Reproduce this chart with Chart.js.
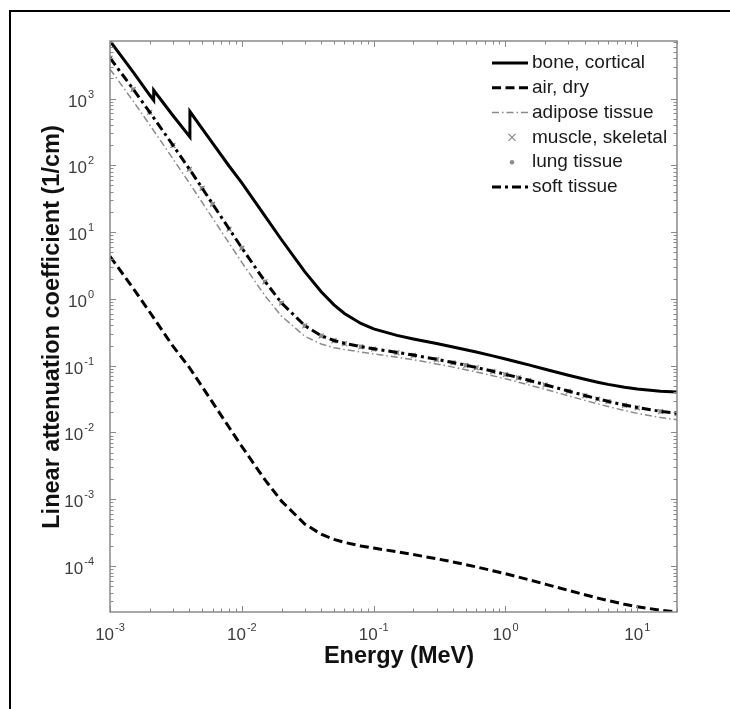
<!DOCTYPE html>
<html>
<head>
<meta charset="utf-8">
<script src="https://cdn.jsdelivr.net/npm/chart.js@4.4.1/dist/chart.umd.min.js"></script>
<style>
  html, body { margin: 0; padding: 0; background: #fff; overflow: hidden; }
  canvas { display: block; }
</style>
</head>
<body>
<canvas id="chart" width="730" height="709"></canvas>
<script>
// energies in MeV
const energy = [0.001, 0.0015, 0.002, 0.003, 0.004, 0.005, 0.006, 0.008, 0.01, 0.015, 0.02, 0.03, 0.04, 0.05, 0.06, 0.08,
  0.1, 0.15, 0.2, 0.3, 0.4, 0.5, 0.6, 0.8, 1, 1.25, 1.5, 2, 3, 4, 5, 6, 8, 10, 15, 20];

// bone has the P and Ca K-edges
const energyBone = [0.001, 0.0015, 0.002, 0.0021455, 0.0021455, 0.003, 0.004038, 0.004038, 0.005, 0.006, 0.008, 0.01, 0.015, 0.02,
  0.03, 0.04, 0.05, 0.06, 0.08, 0.1, 0.15, 0.2, 0.3, 0.4, 0.5, 0.6, 0.8, 1, 1.25, 1.5, 2, 3, 4, 5, 6, 8, 10, 15, 20];

// linear attenuation coefficients (1/cm)
const bone = [7260, 2486, 1127, 940, 1330, 556, 265, 638, 354, 215, 97.6, 54.7, 17.3, 7.68,
  2.556, 1.278, 0.814, 0.604, 0.428, 0.356, 0.284, 0.251, 0.214, 0.190, 0.173, 0.160, 0.140, 0.126, 0.1127, 0.1026,
  0.0885, 0.0719, 0.0625, 0.0566, 0.0525, 0.0474, 0.0446, 0.0414, 0.0403];

const air = [4.345, 1.435, 0.636, 0.1958, 0.0938, 0.0485, 0.0282, 0.01195, 6.17e-3, 1.945e-3, 9.37e-4, 4.26e-4, 2.99e-4,
  2.51e-4, 2.26e-4, 2.00e-4, 1.857e-4, 1.634e-4, 1.486e-4, 1.286e-4, 1.151e-4, 1.050e-4, 9.71e-5, 8.52e-5, 7.66e-5,
  6.85e-5, 6.24e-5, 5.36e-5, 4.32e-5, 3.71e-5, 3.31e-5, 3.04e-5, 2.68e-5, 2.46e-5, 2.18e-5, 2.05e-5];

const adipose = [2755, 912, 404, 125.4, 54.2, 27.8, 16.2, 6.84, 3.52, 1.11, 0.551, 0.276, 0.211, 0.186, 0.174, 0.160,
  0.150, 0.134, 0.1226, 0.1062, 0.0951, 0.0868, 0.0804, 0.0706, 0.0635, 0.0567, 0.0516, 0.0443, 0.0354, 0.0302,
  0.0268, 0.0244, 0.0213, 0.0193, 0.0167, 0.0155];

const muscle = [4010, 1366, 619, 198, 87.1, 45.0, 26.1, 11.1, 5.74, 1.80, 0.861, 0.394, 0.278, 0.236, 0.214, 0.191,
  0.177, 0.156, 0.1426, 0.1233, 0.1103, 0.1007, 0.0931, 0.0818, 0.0735, 0.0657, 0.0598, 0.0514, 0.0413, 0.0354,
  0.0316, 0.0289, 0.0254, 0.0234, 0.0205, 0.0191];

const lung = [4030, 1372, 622, 199, 87.6, 45.3, 26.3, 11.15, 5.77, 1.81, 0.866, 0.396, 0.280, 0.237, 0.215, 0.192,
  0.178, 0.157, 0.1433, 0.1239, 0.1108, 0.1012, 0.0935, 0.0822, 0.0738, 0.0660, 0.0601, 0.0516, 0.0415, 0.0356,
  0.0317, 0.0290, 0.0255, 0.0235, 0.0206, 0.0192];

const soft = [4050, 1380, 625, 200, 88, 45.5, 26.4, 11.2, 5.8, 1.82, 0.87, 0.398, 0.281, 0.238, 0.216, 0.193,
  0.179, 0.158, 0.144, 0.1245, 0.1114, 0.1017, 0.0940, 0.0826, 0.0742, 0.0664, 0.0604, 0.0519, 0.0417, 0.0358,
  0.0319, 0.0292, 0.0257, 0.0236, 0.0207, 0.0193];

const xMin = 0.001, xMax = 20;
const yMin = 2.05e-5, yMax = 7260;
const xTickExp = [-3, -2, -1, 0, 1];
const yTickExp = [-4, -3, -2, -1, 0, 1, 2, 3];

const GRAY = '#8a8a8a';
const FONT = '"Liberation Sans", Arial, sans-serif';

function pts(xs, ys) {
  return xs.map((x, i) => ({ x: x, y: ys[i] }));
}

const datasets = [
  { label: 'bone, cortical', data: pts(energyBone, bone), borderColor: '#000', borderWidth: 3, pointRadius: 0, order: 5 },
  { label: 'air, dry', data: pts(energy, air), borderColor: '#000', borderWidth: 3, borderDash: [9, 4.5], pointRadius: 0, order: 4 },
  { label: 'adipose tissue', data: pts(energy, adipose), borderColor: GRAY, borderWidth: 1.5, borderDash: [7, 3, 1.5, 3], pointRadius: 0, order: 3 },
  { label: 'muscle, skeletal', data: pts(energy, muscle), showLine: false, pointStyle: 'crossRot', pointRadius: 3.5,
    pointBorderWidth: 1.2, borderColor: GRAY, backgroundColor: GRAY, order: 2 },
  { label: 'lung tissue', data: pts(energy, lung), showLine: false, pointStyle: 'circle', pointRadius: 2.2,
    pointBorderWidth: 0, borderColor: GRAY, backgroundColor: GRAY, order: 1 },
  { label: 'soft tissue', data: pts(energy, soft), borderColor: '#000', borderWidth: 3, borderDash: [9, 4, 3, 4], pointRadius: 0, order: 0 }
];

function line(ctx, x1, y1, x2, y2) {
  ctx.beginPath(); ctx.moveTo(x1, y1); ctx.lineTo(x2, y2); ctx.stroke();
}

// draw 10^n with a raised exponent
function powLabel(ctx, cx, baseY, n, align) {
  const base = '10', ex = String(n);
  ctx.font = '17px ' + FONT;
  const wb = ctx.measureText(base).width;
  ctx.font = '11px ' + FONT;
  const we = ctx.measureText(ex).width;
  const w = wb + we + 1;
  const left = align === 'right' ? cx - w : cx - w / 2;
  ctx.textAlign = 'left';
  ctx.textBaseline = 'alphabetic';
  ctx.font = '17px ' + FONT;
  ctx.fillText(base, left, baseY);
  ctx.font = '11px ' + FONT;
  ctx.fillText(ex, left + wb + 1, baseY - 9);
}

// white page with the picture frame (only left and top edges are in view)
const framePlugin = {
  id: 'frame',
  beforeDraw(chart) {
    const ctx = chart.ctx;
    ctx.save();
    ctx.fillStyle = '#fff';
    ctx.fillRect(0, 0, chart.width, chart.height);
    ctx.fillStyle = '#000';
    ctx.fillRect(9, 10, chart.width - 9, 2);
    ctx.fillRect(9, 10, 2, chart.height - 10);
    ctx.restore();
  }
};

const axesPlugin = {
  id: 'matlabAxes',
  afterDraw(chart) {
    const { ctx, chartArea: a, scales: { x, y } } = chart;
    ctx.save();
    ctx.strokeStyle = GRAY;
    ctx.lineWidth = 1.5;
    ctx.setLineDash([]);
    ctx.strokeRect(a.left, a.top, a.right - a.left, a.bottom - a.top);
    ctx.lineWidth = 1;

    // minor / major ticks, pointing inwards on all four sides
    for (let d = -3; d <= 1; d++) {
      for (let m = 1; m <= 9; m++) {
        const v = m * Math.pow(10, d);
        if (v < xMin || v > xMax) continue;
        const px = Math.round(x.getPixelForValue(v)) + 0.5;
        const len = m === 1 ? 6 : 3.5;
        line(ctx, px, a.bottom, px, a.bottom - len);
        line(ctx, px, a.top, px, a.top + len);
      }
    }
    for (let d = -5; d <= 3; d++) {
      for (let m = 1; m <= 9; m++) {
        const v = m * Math.pow(10, d);
        if (v < yMin || v > yMax) continue;
        const py = Math.round(y.getPixelForValue(v)) + 0.5;
        const len = m === 1 ? 6 : 3.5;
        line(ctx, a.left, py, a.left + len, py);
        line(ctx, a.right, py, a.right - len, py);
      }
    }

    // tick labels
    ctx.fillStyle = '#3c3c3c';
    xTickExp.forEach(n => powLabel(ctx, x.getPixelForValue(Math.pow(10, n)), a.bottom + 28, n, 'center'));
    yTickExp.forEach(n => powLabel(ctx, 94, y.getPixelForValue(Math.pow(10, n)) + 8, n, 'right'));

    // axis titles
    ctx.fillStyle = '#111';
    ctx.font = 'bold 23.5px ' + FONT;
    ctx.textAlign = 'center';
    ctx.textBaseline = 'middle';
    ctx.fillText('Energy (MeV)', 399, 657);
    ctx.save();
    ctx.translate(53, 327);
    ctx.rotate(-Math.PI / 2);
    ctx.fillText('Linear attenuation coefficient (1/cm)', 0, 0);
    ctx.restore();

    // legend
    ctx.font = '19px ' + FONT;
    ctx.textAlign = 'left';
    ctx.textBaseline = 'middle';
    chart.data.datasets.forEach((ds, i) => {
      const cy = 63 + i * 24.8;
      if (ds.showLine === false) {
        ctx.strokeStyle = ds.borderColor;
        ctx.fillStyle = ds.backgroundColor;
        ctx.setLineDash([]);
        if (ds.pointStyle === 'crossRot') {
          const r = ds.pointRadius;
          ctx.lineWidth = ds.pointBorderWidth;
          line(ctx, 512 - r, cy - r, 512 + r, cy + r);
          line(ctx, 512 - r, cy + r, 512 + r, cy - r);
        } else {
          ctx.beginPath();
          ctx.arc(512, cy, ds.pointRadius, 0, Math.PI * 2);
          ctx.fill();
        }
      } else {
        ctx.strokeStyle = ds.borderColor;
        ctx.lineWidth = ds.borderWidth;
        ctx.setLineDash(ds.borderDash || []);
        line(ctx, 492, cy, 528, cy);
      }
      ctx.setLineDash([]);
      ctx.fillStyle = '#1a1a1a';
      ctx.fillText(ds.label, 532, cy);
    });
    ctx.restore();
  }
};

new Chart(document.getElementById('chart'), {
  type: 'line',
  data: { datasets: datasets },
  options: {
    responsive: false,
    animation: false,
    layout: { padding: { left: 110, top: 41, right: 53, bottom: 97 } },
    plugins: { legend: { display: false }, tooltip: { enabled: false } },
    elements: { line: { tension: 0 } },
    scales: {
      x: { type: 'logarithmic', display: false, min: xMin, max: xMax },
      y: { type: 'logarithmic', display: false, min: yMin, max: yMax }
    }
  },
  plugins: [framePlugin, axesPlugin]
});
</script>
</body>
</html>
